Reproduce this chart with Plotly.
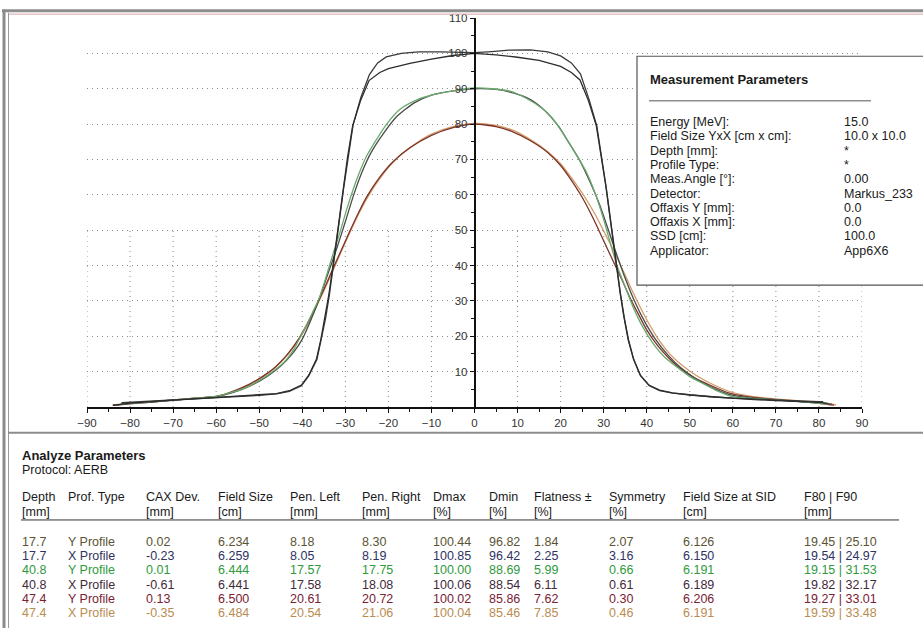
import plotly.graph_objects as go

# ---------------------------------------------------------------------------
# Beam profiles (off-axis position [mm] vs relative dose [%])
# ---------------------------------------------------------------------------
p177y_pos = [-84, -80, -75, -70, -65, -60, -55, -50, -46, -43, -40.2, -38.5, -36.7, -35.7, -34.7, -33.8,
             -32.8, -31.7, -30.5, -29.5, -28.3, -26.5, -24.5, -22, -20, -15, -10, -5, 0, 5, 10, 15, 20,
             22.5, 24.5, 26.5, 28.3, 29.5, 30.5, 31.7, 32.8, 33.8, 34.7, 35.7, 36.9, 38.5, 40.5, 43, 46,
             50, 55, 60, 65, 70, 75, 80, 82]
p177y_dose = [0.5, 1.1, 1.5, 1.9, 2.2, 2.5, 2.9, 3.3, 3.8, 4.6, 6.2, 9.0, 13.6, 19.0, 25.3, 32.0,
              40.5, 51.0, 62.0, 70.5, 79.5, 86.5, 92.3, 94.6, 95.7, 97.2, 98.4, 99.4, 100.0, 99.6, 98.9,
              98.0, 96.3, 94.6, 92.5, 86.5, 79.5, 70.5, 62.5, 51.5, 41.0, 32.5, 25.5, 19.0, 13.6, 9.0,
              6.2, 4.8, 4.0, 3.4, 2.9, 2.4, 2.1, 1.8, 1.6, 1.3, 1.0]

p177x_pos = [-82, -80, -75, -70, -65, -60, -55, -50, -46, -43, -40.2, -38.5, -36.6, -35.6, -34.6, -33.7,
             -32.7, -31.6, -30.4, -29.4, -28.2, -26.4, -24.4, -22.5, -20.5, -17, -13, -8, -3, 0, 4, 8,
             13, 17, 20, 22.5, 24.6, 26.6, 28.4, 29.6, 30.6, 31.8, 32.9, 33.9, 34.8, 35.8, 37.0, 38.6,
             40.6, 43, 46, 50, 55, 60, 65, 70, 75, 80, 81]
p177x_dose = [1.2, 1.3, 1.6, 2.0, 2.3, 2.6, 3.0, 3.3, 3.7, 4.4, 6.0, 8.8, 13.4, 18.8, 25.0, 31.8,
              40.2, 50.8, 61.8, 70.3, 79.8, 87.5, 94.0, 97.3, 99.0, 100.0, 100.4, 100.4, 100.2, 100.2,
              100.5, 100.9, 101.0, 100.4, 99.3, 97.3, 94.2, 87.0, 79.5, 70.0, 62.0, 51.0, 40.5, 32.0,
              25.2, 18.8, 13.4, 8.8, 6.0, 4.6, 3.9, 3.4, 2.9, 2.5, 2.2, 1.9, 1.7, 1.5, 1.5]

p408y_pos = [-82, -80, -75, -70, -65, -60, -56, -53, -51, -49, -47, -45, -43.5, -42, -40.5, -39, -37.5,
             -36, -34.3, -32.8, -31.2, -29.7, -28.1, -26.5, -25, -23, -20.4, -17.3, -13.5, -9.6, -5, 0,
             4, 8.2, 12, 16, 18, 19.9, 23, 26, 28, 29.9, 31.5, 33, 35, 36.9, 39, 41.5, 44, 47, 50, 53.1,
             56.5, 60.1, 65, 70, 75, 80.3, 82]
p408y_dose = [0.8, 1.0, 1.5, 2.0, 2.5, 3.0, 4.3, 5.5, 6.8, 8.2, 9.9, 11.8, 13.7, 16.2, 19.7, 23.2, 27.0,
              31.0, 37.5, 43.5, 49.6, 55.8, 61.8, 67.0, 71.1, 75.2, 80.0, 84.2, 86.8, 88.3, 89.4, 90.2,
              90.0, 89.3, 87.3, 84.2, 81.8, 78.6, 72.6, 66.4, 60.5, 53.4, 46.6, 40.3, 34.0, 28.1, 22.8,
              17.9, 14.3, 11.3, 8.6, 6.6, 4.5, 2.9, 2.4, 2.0, 1.6, 1.0, 0.8]

p408x_pos = [-83, -80, -75, -70, -65, -60, -56, -52, -48, -45, -42, -40, -38, -36, -34, -32, -30, -28,
             -26, -24, -21, -18, -14, -10, -5, 0, 5, 9, 13, 16.5, 19.5, 22, 24.5, 27, 29, 31, 33, 35,
             37, 39.5, 42, 45, 48, 51.5, 55, 59, 64, 70, 76, 81, 83]
p408x_dose = [0.6, 1.0, 1.4, 1.9, 2.4, 2.9, 4.1, 6.0, 8.8, 11.6, 15.5, 19.2, 24.6, 30.8, 37.8, 44.8,
              52.4, 60.2, 66.8, 72.0, 77.6, 82.2, 86.0, 88.2, 89.4, 90.0, 89.8, 88.8, 86.9, 83.6, 79.4,
              74.6, 69.6, 63.2, 57.4, 50.4, 43.2, 36.4, 30.4, 24.2, 19.2, 14.6, 11.0, 7.9, 5.6, 3.6,
              2.6, 2.0, 1.5, 1.1, 0.8]

p474y_pos = [-84, -80, -75, -70, -65, -60, -56, -52, -49, -47, -45, -43, -41, -39, -37, -35, -33, -31,
             -29, -27, -25, -22, -19, -15, -10, -5, 0, 5, 8.5, 13, 17, 20, 22, 25, 27.5, 30, 32, 34,
             36, 38, 40, 42.5, 45, 47.5, 51, 55, 59, 63, 67, 72, 77, 81, 83.5]
p474y_dose = [0.5, 0.9, 1.4, 2.0, 2.5, 3.0, 4.5, 6.6, 8.8, 10.5, 12.8, 15.6, 19.0, 23.2, 28.0, 33.2,
              38.8, 44.2, 49.6, 54.8, 59.5, 65.0, 69.3, 73.3, 76.8, 79.0, 80.0, 79.3, 78.0, 75.3, 72.0,
              68.3, 65.0, 59.3, 53.5, 47.0, 41.8, 36.6, 31.2, 26.4, 21.8, 17.4, 14.0, 11.2, 8.3, 6.0,
              4.0, 3.0, 2.4, 1.9, 1.4, 0.9, 0.5]

p474x_pos = [-83, -80, -75, -70, -65, -60, -56, -52, -49, -46, -43.5, -41, -39, -37, -35, -33, -31, -29,
             -27, -24.5, -22, -18, -14, -10, -5, 0, 5, 9, 13, 17, 20, 23, 25.5, 28, 30.5, 32.5, 34.5,
             36.5, 38.5, 40.5, 43, 45.5, 48, 51.5, 55.5, 60, 64, 68, 73, 78, 82, 84]
p474x_dose = [0.6, 1.0, 1.5, 2.0, 2.5, 3.0, 4.3, 6.4, 8.6, 11.5, 14.6, 18.7, 22.8, 27.6, 32.8, 38.2,
              43.8, 49.2, 54.4, 60.0, 64.6, 70.3, 74.2, 77.2, 79.3, 80.2, 79.6, 78.2, 75.6, 72.2, 68.8,
              64.0, 59.6, 54.5, 48.6, 43.8, 38.6, 33.2, 28.2, 23.6, 18.6, 14.8, 12.0, 8.9, 6.3, 4.1,
              3.1, 2.5, 2.0, 1.5, 1.0, 0.6]

# ---------------------------------------------------------------------------
# Analysis table
# ---------------------------------------------------------------------------
depth = ["17.7", "17.7", "40.8", "40.8", "47.4", "47.4"]
prof_type = ["Y Profile", "X Profile", "Y Profile", "X Profile", "Y Profile", "X Profile"]
cax_dev = [0.02, -0.23, 0.01, -0.61, 0.13, -0.35]
field_size = [6.234, 6.259, 6.444, 6.441, 6.500, 6.484]
pen_left = [8.18, 8.05, 17.57, 17.58, 20.61, 20.54]
pen_right = [8.30, 8.19, 17.75, 18.08, 20.72, 21.06]
dmax = [100.44, 100.85, 100.00, 100.06, 100.02, 100.04]
dmin = [96.82, 96.42, 88.69, 88.54, 85.86, 85.46]
flatness = [1.84, 2.25, 5.99, 6.11, 7.62, 7.85]
symmetry = [2.07, 3.16, 0.66, 0.61, 0.30, 0.46]
fs_sid = [6.126, 6.150, 6.191, 6.189, 6.206, 6.191]
f80 = [19.45, 19.54, 19.15, 19.82, 19.27, 19.59]
f90 = [25.10, 24.97, 31.53, 32.17, 33.01, 33.48]

header_top = ["Depth", "Prof. Type", "CAX Dev.", "Field Size", "Pen. Left", "Pen. Right", "Dmax",
              "Dmin", "Flatness \u00b1", "Symmetry", "Field Size at SID", "F80 | F90"]
header_unit = ["[mm]", "", "[mm]", "[cm]", "[mm]", "[mm]", "[%]", "[%]", "[%]", "[%]", "[cm]", "[mm]"]

meas_labels = ["Energy [MeV]:", "Field Size YxX [cm x cm]:", "Depth [mm]:", "Profile Type:",
               "Meas.Angle [\u00b0]:", "Detector:", "Offaxis Y [mm]:", "Offaxis X [mm]:", "SSD [cm]:",
               "Applicator:"]
meas_values = ["15.0", "10.0 x 10.0", "*", "*", "0.00", "Markus_233", "0.0", "0.0", "100.0", "App6X6"]

# ---------------------------------------------------------------------------
# Layout geometry (pixels)
# ---------------------------------------------------------------------------
W, H = 923, 630
PX0, PX1 = 87, 862      # plot area left / right
PY0, PY1 = 14.4, 407    # plot area top / bottom

FONT = "Liberation Sans, Arial, sans-serif"
TXT = 12.5              # table / info box text size
GRID_DASH = "1px,4px"
GRID_COLOR = "#8a8a8a"


def fx(px):
    return (px - PX0) / (PX1 - PX0)


def fy(py):
    return (PY1 - py) / (PY1 - PY0)


profiles = [
    (p474x_pos, p474x_dose, "#d29a66", "spline"),
    (p474y_pos, p474y_dose, "#7c3328", "spline"),
    (p408x_pos, p408x_dose, "#4a4a4a", "spline"),
    (p408y_pos, p408y_dose, "#6aaa6e", "spline"),
    (p177x_pos, p177x_dose, "#3a3a3a", "linear"),
    (p177y_pos, p177y_dose, "#2c2c2c", "linear"),
]

fig = go.Figure()
for xs, ys, col, shape in profiles:
    fig.add_trace(go.Scatter(
        x=xs, y=ys, mode="lines",
        line=dict(color=col, width=1.3, shape=shape, smoothing=0.6 if shape == "spline" else None),
        hoverinfo="skip", showlegend=False,
    ))

shapes = []
# vertical dotted grid (lower half of the chart)
for xv in range(-90, 91, 10):
    if xv == 0:
        continue
    shapes.append(dict(type="line", xref="x", yref="y", x0=xv, x1=xv, y0=0, y1=50,
                       line=dict(color=GRID_COLOR, width=1, dash=GRID_DASH), layer="below"))


def pline(x0, y0, x1, y1, color, width):
    shapes.append(dict(type="line", xref="paper", yref="paper",
                       x0=fx(x0), x1=fx(x1), y0=fy(y0), y1=fy(y1),
                       line=dict(color=color, width=width), layer="above"))


# window frame
pline(2, 7, 923, 7, "#8c8c8c", 3)
pline(8, 10.5, 923, 10.5, "#d8a4a4", 1)
pline(4, 6, 4, 630, "#8c8c8c", 3)
pline(8.5, 9, 8.5, 630, "#9a9a9a", 1)
pline(8, 433, 923, 433, "#8c8c8c", 2)

# measurement parameter box
shapes.append(dict(type="rect", xref="paper", yref="paper",
                   x0=fx(637), x1=fx(940), y0=fy(53), y1=fy(284),
                   line=dict(color="#555555", width=1.2), fillcolor="white", layer="above"))
pline(649, 98, 871, 98, "#555555", 1)

# table underline
pline(21, 521, 899, 521, "#333333", 1)

annotations = []


def text(px, py, s, size=TXT, color="#1a1a1a", bold=False):
    annotations.append(dict(
        xref="paper", yref="paper", x=fx(px), y=fy(py), text=f"<b>{s}</b>" if bold else s,
        showarrow=False, xanchor="left", yanchor="middle", borderpad=0,
        font=dict(family=FONT, size=size, color=color),
    ))


# measurement parameters
text(649, 76, "Measurement Parameters", size=13, bold=True)
for i, (lab, val) in enumerate(zip(meas_labels, meas_values)):
    y = 119.5 + i * 14.42
    text(649, y, lab)
    text(843, y, val)

# analysis table
text(21, 456, "Analyze Parameters", size=13, bold=True)
text(21, 470.5, "Protocol: AERB")
col_x = [21, 67, 145, 217, 289, 361, 432, 488, 533, 608, 682, 803]
for cx, h1, h2 in zip(col_x, header_top, header_unit):
    text(cx, 498, h1)
    if h2:
        text(cx, 512.5, h2)

row_colors = ["#5a5433", "#2f3262", "#2f9a3c", "#3f2a3c", "#7a2234", "#b98c52"]
row_y = [543, 557.4, 571.8, 586.2, 600.6, 615]
for i in range(len(depth)):
    cells = [depth[i], prof_type[i], f"{cax_dev[i]:.2f}", f"{field_size[i]:.3f}",
             f"{pen_left[i]:.2f}", f"{pen_right[i]:.2f}", f"{dmax[i]:.2f}", f"{dmin[i]:.2f}",
             f"{flatness[i]:.2f}", f"{symmetry[i]:.2f}", f"{fs_sid[i]:.3f}",
             f"{f80[i]:.2f} | {f90[i]:.2f}"]
    for cx, c in zip(col_x, cells):
        text(cx, row_y[i], c, color=row_colors[i])

fig.update_layout(
    width=W, height=H,
    margin=dict(l=PX0, r=W - PX1, t=PY0, b=H - PY1, pad=0),
    paper_bgcolor="white", plot_bgcolor="white",
    shapes=shapes, annotations=annotations,
    xaxis=dict(
        range=[-90, 90], tickmode="linear", tick0=0, dtick=10,
        showgrid=False, zeroline=False,
        showline=True, linecolor="#111111", linewidth=1.5,
        ticks="outside", ticklen=4, tickcolor="#111111", tickwidth=1,
        minor=dict(tick0=0, dtick=5, ticks="outside", ticklen=3, tickcolor="#111111"),
        tickfont=dict(family=FONT, size=11.5, color="#333333"),
    ),
    yaxis=dict(
        range=[0, 110], tickmode="array", tickvals=list(range(10, 111, 10)),
        anchor="free", position=0.5,
        showgrid=True, gridcolor=GRID_COLOR, griddash=GRID_DASH, gridwidth=1,
        zeroline=False,
        showline=True, linecolor="#111111", linewidth=1.5,
        ticks="outside", ticklen=4, tickcolor="#111111", tickwidth=1,
        minor=dict(tick0=0, dtick=5, ticks="outside", ticklen=3, tickcolor="#111111", showgrid=False),
        tickfont=dict(family=FONT, size=11.5, color="#333333"),
    ),
)

fig.write_html("out.html")
